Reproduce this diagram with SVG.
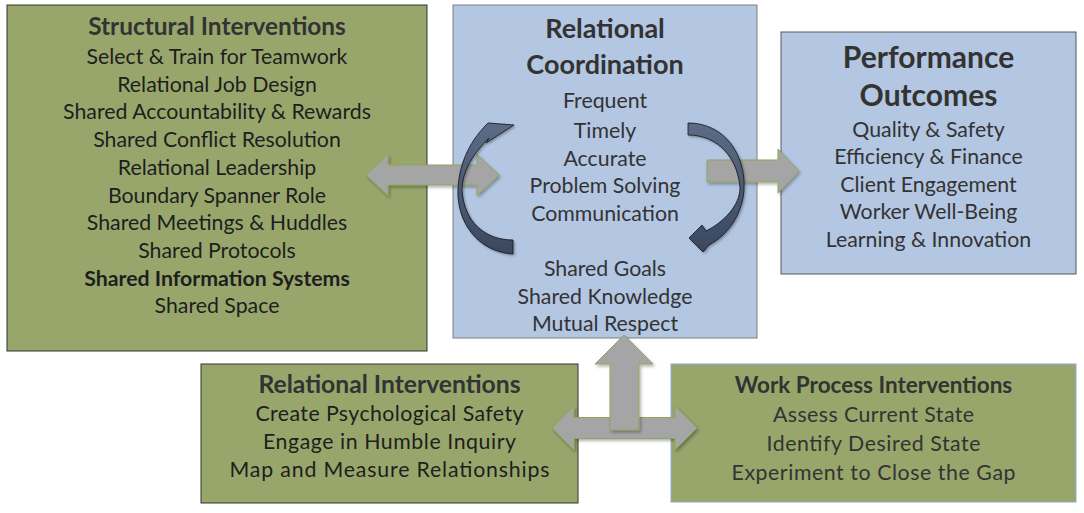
<svg xmlns="http://www.w3.org/2000/svg" width="1084" height="513" viewBox="0 0 1084 513">
<defs>
<style>
.green{fill:#98A66C;}
.blue{fill:#B3C6E2;}
.t{font-family:Lato,"Open Sans","Liberation Sans",sans-serif;text-anchor:middle;}
.h{font-weight:bold;fill:#333333;}
.i{fill:#1e1e1e;font-size:21.3px;}
.g{fill:#333333;font-size:21.3px;}
.ga{fill:#A5A5A5;stroke:#8FA75A;stroke-width:1;filter:url(#sh);}
.ca{fill:url(#cg);stroke:#111111;stroke-width:0.8;filter:url(#sh2);}
</style>
<filter id="sh" x="-20%" y="-20%" width="140%" height="140%">
<feDropShadow dx="1.5" dy="2" stdDeviation="1.5" flood-color="#000" flood-opacity="0.3"/>
</filter>
<filter id="sh2" x="-20%" y="-20%" width="140%" height="140%">
<feDropShadow dx="1.5" dy="1.5" stdDeviation="1.2" flood-color="#000" flood-opacity="0.3"/>
</filter>
<linearGradient id="cg" x1="0" y1="0" x2="0" y2="1">
<stop offset="0" stop-color="#5C6C86"/>
<stop offset="1" stop-color="#3A4860"/>
</linearGradient>
</defs>

<g id="structural">
<rect class="green" x="7" y="5" width="420" height="346" stroke="#333333" stroke-width="1"/>
<text class="t h" x="217" y="35" font-size="24.4">Structural Interventions</text>
<text class="t i" x="217" y="64">Select &amp; Train for Teamwork</text>
<text class="t i" x="217" y="91.7">Relational Job Design</text>
<text class="t i" x="217" y="119.4">Shared Accountability &amp; Rewards</text>
<text class="t i" x="217" y="147.1">Shared Conflict Resolution</text>
<text class="t i" x="217" y="174.8">Relational Leadership</text>
<text class="t i" x="217" y="202.5">Boundary Spanner Role</text>
<text class="t i" x="217" y="230.2">Shared Meetings &amp; Huddles</text>
<text class="t i" x="217" y="257.9">Shared Protocols</text>
<text class="t i" x="217" y="285.6" font-weight="bold" fill="#111">Shared Information Systems</text>
<text class="t i" x="217" y="313.3">Shared Space</text>
</g>

<g id="relational-coordination">
<rect class="blue" x="453" y="5" width="304" height="333" stroke="#7F7F7F" stroke-width="1"/>
<text class="t h" x="605" y="38" font-size="27">Relational</text>
<text class="t h" x="605" y="74" font-size="27">Coordination</text>
<text class="t g" x="605" y="108">Frequent</text>
<text class="t g" x="605" y="137.5">Timely</text>
<text class="t g" x="605" y="165.5">Accurate</text>
<text class="t g" x="605" y="193">Problem Solving</text>
<text class="t g" x="605" y="221">Communication</text>
<text class="t g" x="605" y="276">Shared Goals</text>
<text class="t g" x="605" y="303.5">Shared Knowledge</text>
<text class="t g" x="605" y="331">Mutual Respect</text>
</g>

<g id="performance-outcomes">
<rect class="blue" x="781" y="32" width="295" height="242" stroke="#595959" stroke-width="1"/>
<text class="t h" x="928.5" y="68" font-size="30">Performance</text>
<text class="t h" x="928.5" y="105.5" font-size="30">Outcomes</text>
<text class="t g" x="928.5" y="136.5" font-size="21">Quality &amp; Safety</text>
<text class="t g" x="928.5" y="164" font-size="21">Efficiency &amp; Finance</text>
<text class="t g" x="928.5" y="191.7" font-size="21">Client Engagement</text>
<text class="t g" x="928.5" y="219.3" font-size="21">Worker Well-Being</text>
<text class="t g" x="928.5" y="246.8" font-size="21">Learning &amp; Innovation</text>
</g>

<g id="relational-interventions">
<rect class="green" x="201" y="364" width="377" height="139" stroke="#333333" stroke-width="1"/>
<text class="t h" x="389.5" y="393" font-size="24.7" fill="#111">Relational Interventions</text>
<text class="t i" x="389.5" y="421" font-size="24" textLength="268">Create Psychological Safety</text>
<text class="t i" x="389.5" y="449" font-size="24" textLength="253">Engage in Humble Inquiry</text>
<text class="t i" x="389.5" y="477" font-size="24" textLength="320">Map and Measure Relationships</text>
</g>

<g id="work-process-interventions">
<rect class="green" x="671" y="364" width="405" height="138" stroke="#8EA9DB" stroke-width="1"/>
<text class="t h" x="873.5" y="393" font-size="22.5">Work Process Interventions</text>
<text class="t g" x="873.5" y="422" font-size="23.6" textLength="201">Assess Current State</text>
<text class="t g" x="873.5" y="451" font-size="23.6" textLength="214">Identify Desired State</text>
<text class="t g" x="873.5" y="480" font-size="23.6" textLength="284">Experiment to Close the Gap</text>
</g>

<g id="connectors">
<polygon class="ga" points="366,175 388,154.5 388,165 477,165 477,154.5 499,175 477,195.5 477,185 388,185 388,195.5"/>
<polygon class="ga" points="707,160 778,160 778,149 799,171 778,193 778,182 707,182"/>
<polygon class="ga" points="552,428 574,406 574,417.5 675,417.5 675,406 697,428 675,450 675,438.5 574,438.5 574,450"/>
<polygon class="ga" points="624,335 653,364 639,364 639,430 610,430 610,364 595,364"/>
<path class="ca" d="M513,254 C478,252 456,222 458,188 C460,160 471,140 488,123 L514,125 L486,143 L489,138 C475,152 462,170 462,190 C464,222 485,240 513,240 Z"/>
<path class="ca" d="M688,123 C725,123 746,155 744,190 C742,215 728,235 709,245 L703,252 L689,238 L702,225 L706,231 C724,222 740,205 740,188 C738,158 718,135 688,135 Z"/>
</g>
</svg>
